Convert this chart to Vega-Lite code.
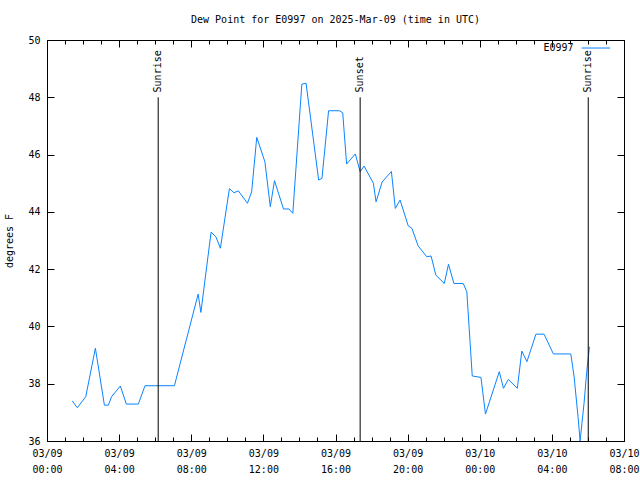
{
  "$schema": "https://vega.github.io/schema/vega-lite/v6.json",
  "width": 577,
  "height": 401,
  "autosize": {"type": "none"},
  "padding": {"left": 47, "top": 40, "right": 16, "bottom": 39},
  "title": {
    "text": "Dew Point for E0997 on 2025-Mar-09 (time in UTC)",
    "anchor": "middle",
    "font": "DejaVu Sans Mono",
    "fontSize": 10,
    "fontWeight": "normal",
    "color": "black",
    "offset": 10
  },
  "config": {
    "view": {"stroke": "black", "strokeWidth": 1},
    "font": "DejaVu Sans Mono",
    "axis": {
      "domain": false,
      "grid": false,
      "labelFont": "DejaVu Sans Mono",
      "labelFontSize": 10,
      "labelColor": "black",
      "tickColor": "black",
      "titleFont": "DejaVu Sans Mono",
      "titleFontSize": 10,
      "titleFontWeight": "normal",
      "titleColor": "black"
    }
  },
  "datasets": {
    "dew": [
      {"t": "2025-03-09T01:24:00Z", "v": 37.40},
      {"t": "2025-03-09T01:41:00Z", "v": 37.16},
      {"t": "2025-03-09T02:09:00Z", "v": 37.55},
      {"t": "2025-03-09T02:41:00Z", "v": 39.24},
      {"t": "2025-03-09T03:11:00Z", "v": 37.25},
      {"t": "2025-03-09T03:24:00Z", "v": 37.25},
      {"t": "2025-03-09T03:35:00Z", "v": 37.55},
      {"t": "2025-03-09T04:04:00Z", "v": 37.92},
      {"t": "2025-03-09T04:24:00Z", "v": 37.29},
      {"t": "2025-03-09T05:04:00Z", "v": 37.29},
      {"t": "2025-03-09T05:26:00Z", "v": 37.93},
      {"t": "2025-03-09T07:04:00Z", "v": 37.93},
      {"t": "2025-03-09T08:23:00Z", "v": 41.13},
      {"t": "2025-03-09T08:32:00Z", "v": 40.49},
      {"t": "2025-03-09T09:06:00Z", "v": 43.29},
      {"t": "2025-03-09T09:22:00Z", "v": 43.13},
      {"t": "2025-03-09T09:37:00Z", "v": 42.73},
      {"t": "2025-03-09T10:07:00Z", "v": 44.81},
      {"t": "2025-03-09T10:22:00Z", "v": 44.67},
      {"t": "2025-03-09T10:37:00Z", "v": 44.73},
      {"t": "2025-03-09T11:07:00Z", "v": 44.30},
      {"t": "2025-03-09T11:21:00Z", "v": 44.70},
      {"t": "2025-03-09T11:38:00Z", "v": 46.60},
      {"t": "2025-03-09T12:05:00Z", "v": 45.75},
      {"t": "2025-03-09T12:23:00Z", "v": 44.18},
      {"t": "2025-03-09T12:37:00Z", "v": 45.09},
      {"t": "2025-03-09T13:07:00Z", "v": 44.10},
      {"t": "2025-03-09T13:25:00Z", "v": 44.10},
      {"t": "2025-03-09T13:38:00Z", "v": 43.95},
      {"t": "2025-03-09T14:08:00Z", "v": 48.46},
      {"t": "2025-03-09T14:22:00Z", "v": 48.49},
      {"t": "2025-03-09T15:04:00Z", "v": 45.11},
      {"t": "2025-03-09T15:15:00Z", "v": 45.17},
      {"t": "2025-03-09T15:37:00Z", "v": 47.53},
      {"t": "2025-03-09T16:13:00Z", "v": 47.53},
      {"t": "2025-03-09T16:24:00Z", "v": 47.46},
      {"t": "2025-03-09T16:37:00Z", "v": 45.67},
      {"t": "2025-03-09T17:06:00Z", "v": 46.02},
      {"t": "2025-03-09T17:22:00Z", "v": 45.40},
      {"t": "2025-03-09T17:35:00Z", "v": 45.60},
      {"t": "2025-03-09T18:06:00Z", "v": 45.00},
      {"t": "2025-03-09T18:15:00Z", "v": 44.35},
      {"t": "2025-03-09T18:35:00Z", "v": 45.04},
      {"t": "2025-03-09T19:06:00Z", "v": 45.41},
      {"t": "2025-03-09T19:19:00Z", "v": 44.12},
      {"t": "2025-03-09T19:35:00Z", "v": 44.41},
      {"t": "2025-03-09T20:02:00Z", "v": 43.51},
      {"t": "2025-03-09T20:14:00Z", "v": 43.43},
      {"t": "2025-03-09T20:35:00Z", "v": 42.81},
      {"t": "2025-03-09T21:04:00Z", "v": 42.43},
      {"t": "2025-03-09T21:18:00Z", "v": 42.46},
      {"t": "2025-03-09T21:34:00Z", "v": 41.79},
      {"t": "2025-03-09T22:02:00Z", "v": 41.50},
      {"t": "2025-03-09T22:16:00Z", "v": 42.17},
      {"t": "2025-03-09T22:34:00Z", "v": 41.50},
      {"t": "2025-03-09T23:05:00Z", "v": 41.50},
      {"t": "2025-03-09T23:17:00Z", "v": 41.21},
      {"t": "2025-03-09T23:35:00Z", "v": 38.27},
      {"t": "2025-03-10T00:04:00Z", "v": 38.22},
      {"t": "2025-03-10T00:19:00Z", "v": 36.94},
      {"t": "2025-03-10T01:05:00Z", "v": 38.42},
      {"t": "2025-03-10T01:19:00Z", "v": 37.84},
      {"t": "2025-03-10T01:35:00Z", "v": 38.15},
      {"t": "2025-03-10T02:05:00Z", "v": 37.84},
      {"t": "2025-03-10T02:20:00Z", "v": 39.14},
      {"t": "2025-03-10T02:37:00Z", "v": 38.77},
      {"t": "2025-03-10T03:07:00Z", "v": 39.73},
      {"t": "2025-03-10T03:34:00Z", "v": 39.73},
      {"t": "2025-03-10T04:05:00Z", "v": 39.04},
      {"t": "2025-03-10T05:03:00Z", "v": 39.04},
      {"t": "2025-03-10T05:14:00Z", "v": 38.24},
      {"t": "2025-03-10T05:27:00Z", "v": 36.85},
      {"t": "2025-03-10T05:34:00Z", "v": 36.00},
      {"t": "2025-03-10T05:40:00Z", "v": 36.62},
      {"t": "2025-03-10T05:47:00Z", "v": 37.31},
      {"t": "2025-03-10T05:56:00Z", "v": 38.42},
      {"t": "2025-03-10T06:05:00Z", "v": 39.29}
    ],
    "sun": [
      {"t": "2025-03-09T06:10:00Z", "event": "Sunrise"},
      {"t": "2025-03-09T17:22:00Z", "event": "Sunset"},
      {"t": "2025-03-10T06:01:00Z", "event": "Sunrise"}
    ],
    "key": [
      {"t": "2025-03-10T05:12:00Z", "t2": "2025-03-10T05:39:00Z", "t3": "2025-03-10T07:14:00Z", "name": "E0997"}
    ]
  },
  "layer": [
    {
      "data": {"name": "dew"},
      "mark": {"type": "line", "color": "#0a84ff", "strokeWidth": 1, "clip": true},
      "encoding": {
        "x": {
          "field": "t", "type": "temporal",
          "scale": {"type": "utc", "domain": [1741478400000, 1741593600000], "nice": false},
          "axis": {
            "orient": "bottom",
            "title": null,
            "values": [1741478400000, 1741492800000, 1741507200000, 1741521600000, 1741536000000, 1741550400000, 1741564800000, 1741579200000, 1741593600000],
            "tickSize": -7,
            "labelPadding": 14,
            "labelAngle": 0,
            "labelAlign": "center",
            "labelBaseline": "top",
            "labelLineHeight": 16,
            "labelOverlap": false,
            "labelFlush": false,
            "labelExpr": "[utcFormat(datum.value, '%m/%d'), utcFormat(datum.value, '%H:%M')]"
          }
        },
        "y": {
          "field": "v", "type": "quantitative",
          "scale": {"domain": [36, 50], "nice": false, "zero": false},
          "axis": {
            "orient": "left",
            "title": "degrees F",
            "values": [36, 38, 40, 42, 44, 46, 48, 50],
            "tickSize": -7,
            "labelPadding": 14,
            "titlePadding": 13
          }
        }
      }
    },
    {
      "data": {"name": "sun"},
      "mark": {"type": "rule", "color": "black", "strokeWidth": 1},
      "encoding": {
        "x": {
          "field": "t", "type": "temporal",
          "axis": {
            "orient": "bottom", "title": null, "labels": false, "tickSize": -4,
            "values": [1741478400000, 1741482000000, 1741485600000, 1741489200000, 1741492800000, 1741496400000, 1741500000000, 1741503600000, 1741507200000, 1741510800000, 1741514400000, 1741518000000, 1741521600000, 1741525200000, 1741528800000, 1741532400000, 1741536000000, 1741539600000, 1741543200000, 1741546800000, 1741550400000, 1741554000000, 1741557600000, 1741561200000, 1741564800000, 1741568400000, 1741572000000, 1741575600000, 1741579200000, 1741582800000, 1741586400000, 1741590000000, 1741593600000]
          }
        },
        "y": {
          "datum": 48, "type": "quantitative",
          "axis": {"orient": "right", "title": null, "labels": false, "values": [36, 38, 40, 42, 44, 46, 48, 50], "tickSize": -7}
        },
        "y2": {"datum": 36}
      }
    },
    {
      "data": {"name": "sun"},
      "mark": {"type": "text", "angle": 270, "align": "left", "baseline": "middle", "font": "DejaVu Sans Mono", "fontSize": 10, "color": "black"},
      "encoding": {
        "x": {
          "field": "t", "type": "temporal",
          "axis": {
            "orient": "top", "title": null, "labels": false, "tickSize": -7,
            "values": [1741478400000, 1741492800000, 1741507200000, 1741521600000, 1741536000000, 1741550400000, 1741564800000, 1741579200000, 1741593600000]
          }
        },
        "y": {"datum": 48.17, "type": "quantitative", "axis": null},
        "text": {"field": "event"}
      }
    },
    {
      "data": {"name": "key"},
      "mark": {"type": "text", "align": "right", "baseline": "middle", "font": "DejaVu Sans Mono", "fontSize": 10, "color": "black"},
      "encoding": {
        "x": {
          "field": "t", "type": "temporal",
          "axis": {
            "orient": "top", "title": null, "labels": false, "tickSize": -4,
            "values": [1741478400000, 1741482000000, 1741485600000, 1741489200000, 1741492800000, 1741496400000, 1741500000000, 1741503600000, 1741507200000, 1741510800000, 1741514400000, 1741518000000, 1741521600000, 1741525200000, 1741528800000, 1741532400000, 1741536000000, 1741539600000, 1741543200000, 1741546800000, 1741550400000, 1741554000000, 1741557600000, 1741561200000, 1741564800000, 1741568400000, 1741572000000, 1741575600000, 1741579200000, 1741582800000, 1741586400000, 1741590000000, 1741593600000]
          }
        },
        "y": {"datum": 49.72, "type": "quantitative", "axis": null},
        "text": {"field": "name"}
      }
    },
    {
      "data": {"name": "key"},
      "mark": {"type": "rule", "color": "#0a84ff", "strokeWidth": 1},
      "encoding": {
        "x": {"field": "t2", "type": "temporal", "axis": null},
        "x2": {"field": "t3"},
        "y": {"datum": 49.72, "type": "quantitative", "axis": null}
      }
    }
  ],
  "resolve": {"axis": {"x": "independent", "y": "independent"}}
}
